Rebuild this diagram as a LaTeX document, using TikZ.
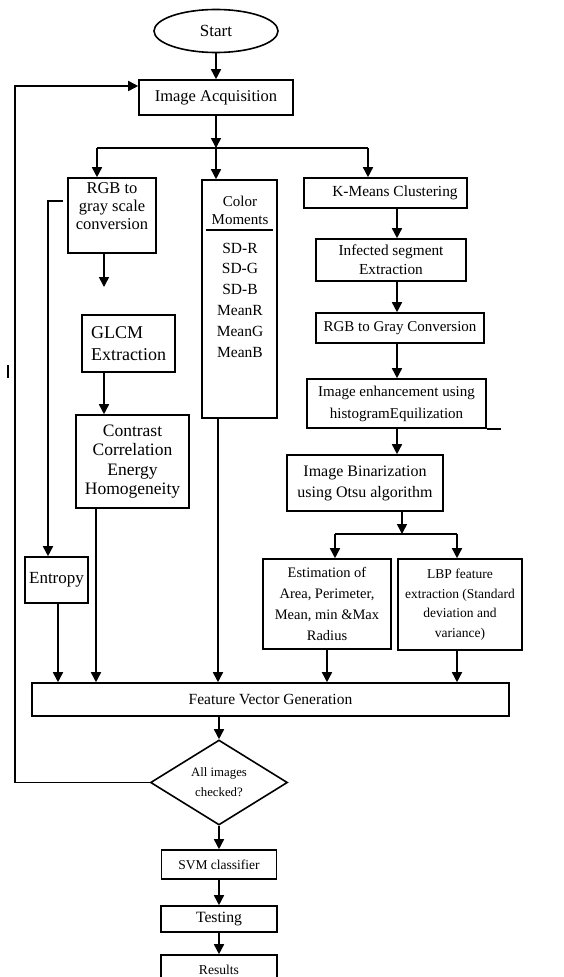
\documentclass[tikz,border=0pt]{standalone}
\usepackage{fontspec}
\setmainfont{Liberation Serif}
\usetikzlibrary{arrows.meta,shapes.geometric,calc}
\newcommand\myfs[2]{\fontsize{#1}{#2}\selectfont}
\tikzset{
  lw/.style={line width=1.6pt},
  box/.style={draw, lw, rectangle, inner sep=0pt, align=center},
  arr/.style={lw, -{Triangle[length=10pt,width=10pt]}},
  ln/.style={lw},
}
\begin{document}
\begin{tikzpicture}[x=1pt,y=-1pt]
\fill[white] (0,0) rectangle (564,977);
\useasboundingbox (0,0) rectangle (564,977);

% top
\node[draw,ellipse,lw,minimum width=124pt,minimum height=43pt,inner sep=0pt,font=\myfs{17}{19}] (start) at (216,31) {Start};
\node[box,minimum width=154pt,minimum height=35pt,font=\myfs{16.5}{19}] (acq) at (216,97.5) {Image Acquisition};
\coordinate (bus) at (216,148);
\coordinate (busL) at (97,148);
\coordinate (busR) at (368,148);

% left column
\node[box,minimum width=88pt,minimum height=75pt] (rgb) at (112,215.5) {};
\node[font=\myfs{16.5}{18},align=center,inner sep=0pt,anchor=north] (rgbtext) at (112,182) {RGB to\\gray scale\\conversion};
\coordinate (rgbend) at (104,287);
\node[box,minimum width=93pt,minimum height=57pt,font=\myfs{18}{22},align=left] (glcm) at (128.5,343.5) {GLCM\\Extraction};
\node[box,minimum width=113pt,minimum height=93pt,font=\myfs{17.5}{19.3}] (con) at (132.5,461.5) {Contrast\\Correlation\\Energy\\Homogeneity};
\coordinate (entA) at (63,201);
\coordinate (entB) at (48,201);
\node[box,minimum width=63pt,minimum height=46pt,font=\myfs{17}{19}] (ent) at (56.5,580) {Entropy};
\coordinate (conx) at (96,0);
\coordinate (entx) at (58,0);

% colour moments
\node[box,minimum width=75pt,minimum height=238pt] (cm) at (239.5,299) {};
\node[font=\myfs{15}{18},align=center,inner sep=0pt] (cmtitle) at (240,210) {Color\\Moments};
\draw[line width=1.9pt] (206,230) -- (273,230);
\node[font=\myfs{15.5}{20.8},align=center,inner sep=0pt] (cmlist) at (240,300) {SD-R\\SD-G\\SD-B\\MeanR\\MeanG\\MeanB};
\coordinate (cmx) at (218,0);

% right column
\coordinate (rx) at (397,0);
\node[box,minimum width=163pt,minimum height=30pt,font=\myfs{15.4}{18}] (km) at (385.5,193) {\hspace*{19pt}K-Means Clustering};
\node[box,minimum width=150pt,minimum height=42pt,font=\myfs{15.3}{19}] (inf) at (391,260) {Infected segment\\Extraction};
\node[box,minimum width=168pt,minimum height=30pt,font=\myfs{15}{18}] (rgbg) at (400,328) {RGB to Gray Conversion};
\node[box,minimum width=179pt,minimum height=49pt,font=\myfs{15}{22}] (enh) at (396.5,403.5) {Image enhancement using\\histogramEquilization};
\node[box,minimum width=156pt,minimum height=56pt,font=\myfs{16}{21}] (bin) at (365,483) {Image Binarization\\using Otsu algorithm};
\coordinate (split) at (402,534);
\coordinate (splitL) at (335,534);
\coordinate (splitR) at (457,534);
\node[box,minimum width=128pt,minimum height=90pt,font=\myfs{14.5}{20.7}] (est) at (327,604) {Estimation of\\Area, Perimeter,\\Mean, min \&Max\\Radius};
\node[box,minimum width=124pt,minimum height=91pt,font=\myfs{13.5}{19.5}] (lbp) at (460,604.5) {LBP feature\\extraction (Standard\\deviation and\\variance)};

% bottom
\node[box,minimum width=477pt,minimum height=33pt,font=\myfs{15.5}{18}] (fvg) at (270.5,699.5) {Feature Vector Generation};
\node[draw,diamond,lw,minimum width=137pt,minimum height=85pt,inner sep=0pt,align=center,font=\myfs{12.8}{20}] (dia) at (219,782.5) {All images\\checked?};
\coordinate (loopB) at (15,779);
\coordinate (loopT) at (15,86);
\node[box,minimum width=115pt,minimum height=29pt,font=\myfs{13.5}{16}] (svm) at (219,864.5) {SVM classifier};
\node[box,minimum width=116pt,minimum height=26pt,font=\myfs{15.7}{18}] (test) at (219,919) {Testing};
\node[box,minimum width=116pt,minimum height=30pt,font=\myfs{13.6}{16}] (res) at (219,970) {Results};

% connectors
\draw[arr] (start.south) -- (acq.north);
\draw[arr] (acq.south) -- (bus);
\draw[ln] (busL) -- (busR);
\draw[arr] (busL) -- (busL |- rgb.north);
\draw[arr] (bus) -- (bus |- cm.north);
\draw[arr] (busR) -- (busR |- km.north);

\draw[arr] (rgb.south -| rgbend) -- (rgbend);
\draw[arr] (glcm.south -| rgbend) -- (con.north -| rgbend);
\draw[arr] (entA) -- (entB) -- (entB |- ent.north);

\draw[arr] (km.south -| rx) -- (inf.north -| rx);
\draw[arr] (inf.south -| rx) -- (rgbg.north -| rx);
\draw[arr] (rgbg.south -| rx) -- (enh.north -| rx);
\draw[arr] (enh.south -| rx) -- (bin.north -| rx);
\draw[ln] (enh.south east) -- ++(14,0);
\draw[arr] (bin.south -| split) -- (split);
\draw[ln] (splitL) -- (splitR);
\draw[arr] (splitL) -- (splitL |- est.north);
\draw[arr] (splitR) -- (splitR |- lbp.north);

\draw[arr] (ent.south -| entx) -- (fvg.north -| entx);
\draw[arr] (con.south -| conx) -- (fvg.north -| conx);
\draw[arr] (cm.south -| cmx) -- (fvg.north -| cmx);
\draw[arr] (est.south) -- (est.south |- fvg.north);
\draw[arr] (lbp.south -| splitR) -- (fvg.north -| splitR);

\draw[arr] (fvg.south -| dia.north) -- (dia.north);
\draw[arr] (dia.west) -- (dia.west -| loopB) -- (loopT) -- (acq.west |- loopT);
\draw[arr] (dia.south) -- (svm.north);
\draw[arr] (svm.south) -- (test.north);
\draw[arr] (test.south) -- (res.north);

% stray mark
\draw[line width=1.2pt] (8,365) -- (8,378);
\end{tikzpicture}
\end{document}
